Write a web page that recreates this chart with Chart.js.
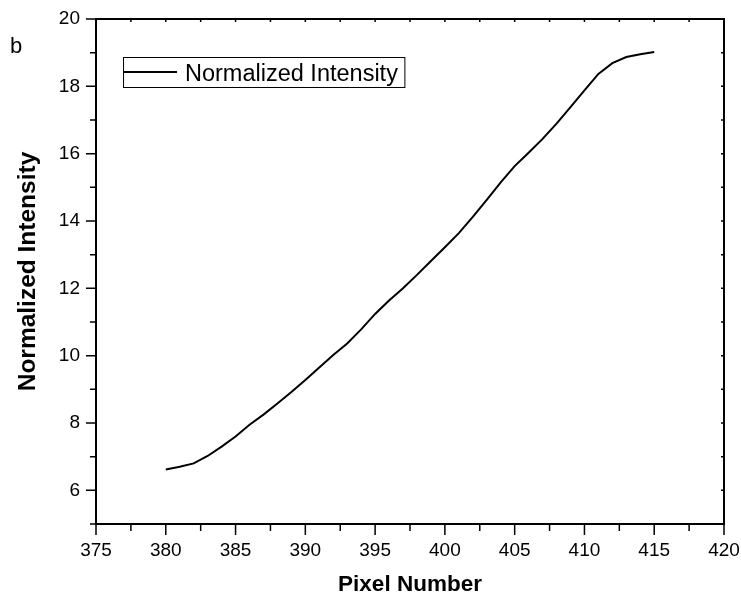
<!DOCTYPE html>
<html>
<head>
<meta charset="utf-8">
<script src="https://cdn.jsdelivr.net/npm/chart.js@4/dist/chart.umd.min.js"></script>
<style>
html,body{margin:0;padding:0;background:#fff;}
#wrap{width:741px;height:598px;position:relative;}
</style>
</head>
<body>
<div id="wrap"><canvas id="c" width="741" height="598"></canvas></div>
<script>
// ---- data ----
const pixelNumber = [380,381,382,383,384,385,386,387,388,389,390,391,392,393,394,395,396,397,398,399,400,401,402,403,404,405,406,407,408,409,410,411,412,413,414,415];
const normalizedIntensity = [6.62,6.70,6.80,7.02,7.30,7.60,7.95,8.25,8.58,8.92,9.28,9.65,10.02,10.36,10.78,11.24,11.64,12.00,12.40,12.81,13.22,13.64,14.12,14.63,15.15,15.63,16.03,16.44,16.89,17.38,17.88,18.37,18.69,18.87,18.95,19.02];
const seriesName = 'Normalized Intensity';
const xTitle = 'Pixel Number';
const yTitle = 'Normalized Intensity';
const panelLabel = 'b';
const xMin = 375, xMax = 420, xMajor = 5, xMinor = 2.5;
const yMin = 5, yMax = 20, yMajor = 2, yMinor = 1;

const FONT = "'Liberation Sans', Arial, sans-serif";

const decorPlugin = {
  id: 'decor',
  afterDraw(chart) {
    const ctx = chart.ctx;
    const a = chart.chartArea;
    const xs = chart.scales.x, ys = chart.scales.y;
    ctx.save();
    ctx.strokeStyle = '#000';
    // frame
    ctx.lineWidth = 2;
    ctx.strokeRect(a.left, a.top, a.right - a.left, a.bottom - a.top);
    // x ticks
    ctx.lineWidth = 1.5;
    xs.ticks.forEach(t => {
      const p = xs.getPixelForValue(t.value);
      const major = Math.abs(t.value / xMajor - Math.round(t.value / xMajor)) < 1e-6;
      ctx.beginPath();
      ctx.moveTo(p, a.bottom);
      ctx.lineTo(p, a.bottom + (major ? 11 : 7));
      ctx.moveTo(p, a.top);
      ctx.lineTo(p, a.top + 3);
      ctx.stroke();
    });
    ys.ticks.forEach(t => {
      const p = ys.getPixelForValue(t.value);
      const major = Math.abs((t.value) / yMajor - Math.round(t.value / yMajor)) < 1e-6;
      ctx.beginPath();
      ctx.moveTo(a.left, p);
      ctx.lineTo(a.left - (major ? 10 : 6), p);
      ctx.moveTo(a.right, p);
      ctx.lineTo(a.right - 3, p);
      ctx.stroke();
    });
    // panel label
    ctx.fillStyle = '#000';
    ctx.font = '22px ' + FONT;
    ctx.textBaseline = 'alphabetic';
    ctx.textAlign = 'left';
    ctx.fillText(panelLabel, 10, 53);
    // legend
    const ds = chart.data.datasets[0];
    ctx.font = '23.5px ' + FONT;
    const tw = ctx.measureText(ds.label).width;
    const bx = 123.5, by = 57.5, bh = 30;
    ctx.lineWidth = 1;
    ctx.strokeRect(bx, by, (185 - bx) + tw + 7, bh);
    ctx.lineWidth = 2;
    ctx.strokeStyle = ds.borderColor;
    ctx.beginPath();
    ctx.moveTo(bx, 72);
    ctx.lineTo(177, 72);
    ctx.stroke();
    ctx.fillText(ds.label, 185, 81);
    ctx.restore();
  }
};

new Chart(document.getElementById('c'), {
  type: 'line',
  data: {
    datasets: [{
      label: seriesName,
      data: pixelNumber.map((x, i) => ({x: x, y: normalizedIntensity[i]})),
      borderColor: '#000',
      borderWidth: 2,
      pointRadius: 0,
      tension: 0,
      fill: false
    }]
  },
  options: {
    responsive: false,
    animation: false,
    devicePixelRatio: 1,
    layout: { padding: { left: 0, top: 19, right: 17, bottom: 0 } },
    plugins: { legend: { display: false }, tooltip: { enabled: false } },
    scales: {
      x: {
        type: 'linear',
        min: xMin, max: xMax,
        afterFit(s) { s.height = 74; s.paddingLeft = 0; s.paddingRight = 0; },
        afterBuildTicks(s) {
          const t = [];
          for (let v = xMin; v <= xMax + 1e-9; v += xMinor) t.push({value: v});
          s.ticks = t;
        },
        grid: { display: false, drawTicks: false },
        border: { display: false },
        ticks: {
          autoSkip: false, maxRotation: 0, padding: 15,
          color: '#000',
          font: { family: FONT, size: 19 },
          callback(v) { return (Math.abs(v / xMajor - Math.round(v / xMajor)) < 1e-6) ? String(v) : ''; }
        },
        title: {
          display: true, text: xTitle, color: '#000',
          font: { family: FONT, size: 22.5, weight: 'bold' },
          padding: { top: 0, bottom: 0 }
        }
      },
      y: {
        type: 'linear',
        min: yMin, max: yMax,
        afterFit(s) { s.width = 96; s.paddingTop = 0; s.paddingBottom = 0; },
        afterBuildTicks(s) {
          const t = [];
          for (let v = yMin; v <= yMax + 1e-9; v += yMinor) t.push({value: v});
          s.ticks = t;
        },
        grid: { display: false, drawTicks: false },
        border: { display: false },
        ticks: {
          autoSkip: false, padding: 16,
          color: '#000',
          font: { family: FONT, size: 19 },
          callback(v) { return (Math.abs(v / yMajor - Math.round(v / yMajor)) < 1e-6) ? String(v) : ''; }
        },
        title: {
          display: true, text: yTitle, color: '#000',
          font: { family: FONT, size: 24.5, weight: 'bold' },
          padding: { top: 14, bottom: 0 }
        }
      }
    }
  },
  plugins: [decorPlugin]
});
</script>
</body>
</html>
